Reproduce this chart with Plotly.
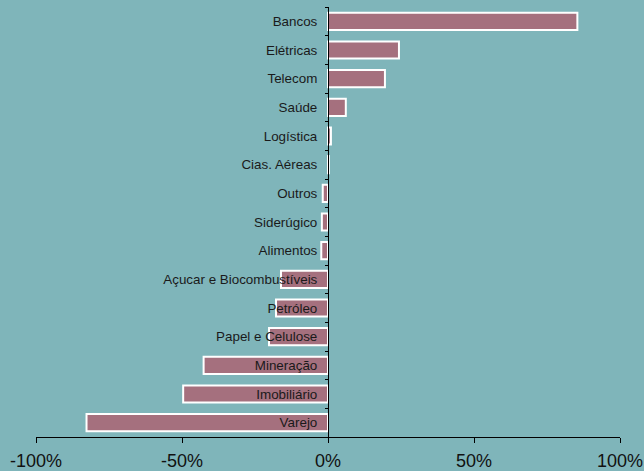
import plotly.graph_objects as go

categories = ["Bancos", "Elétricas", "Telecom", "Saúde", "Logística", "Cias. Aéreas",
              "Outros", "Siderúgico", "Alimentos", "Açucar e Biocombustíveis", "Petróleo",
              "Papel e Celulose", "Mineração", "Imobiliário", "Varejo"]
values = [0.854, 0.243, 0.195, 0.061, 0.010, 0.003,
          -0.018, -0.021, -0.023, -0.161, -0.178,
          -0.202, -0.426, -0.496, -0.827]
x_tickvals = [-1, -0.5, 0, 0.5, 1]
x_ticktext = ["-100%", "-50%", "0%", "50%", "100%"]

BG = "#7fb5ba"
BAR = "#a5707e"
FONT = "Arial, 'Liberation Sans', sans-serif"

fig = go.Figure(go.Bar(
    x=values, y=categories, orientation="h",
    marker=dict(color=BAR, line=dict(color="white", width=2)),
    width=0.6, hoverinfo="x+y",
))

fig.update_layout(
    width=644, height=471,
    paper_bgcolor=BG, plot_bgcolor=BG,
    margin=dict(l=36, r=24, t=7, b=34, autoexpand=False),
    showlegend=False,
    font=dict(family=FONT, color="#1a1a1a"),
    xaxis=dict(range=[-1, 1], tickvals=x_tickvals, ticktext=x_ticktext,
               showgrid=False, zeroline=False, showline=True, linecolor="black",
               linewidth=1, ticks="outside", ticklen=5, tickcolor="black",
               automargin=False, ticklabelstandoff=2,
               tickfont=dict(size=18, color="#111")),
    yaxis=dict(type="category", categoryorder="array", categoryarray=categories,
               autorange="reversed", anchor="free", position=0.5,
               showgrid=False, zeroline=False, showline=True, linecolor="black",
               linewidth=1, ticks="outside", ticklen=3, tickcolor="black",
               tickson="boundaries", ticklabelstandoff=8, automargin=False,
               tickfont=dict(size=13.4, color="#1a1a1a")),
)

fig.write_html("out.html", config={"displayModeBar": False},
               post_script="document.body.style.margin='0';document.body.style.padding='0';")
